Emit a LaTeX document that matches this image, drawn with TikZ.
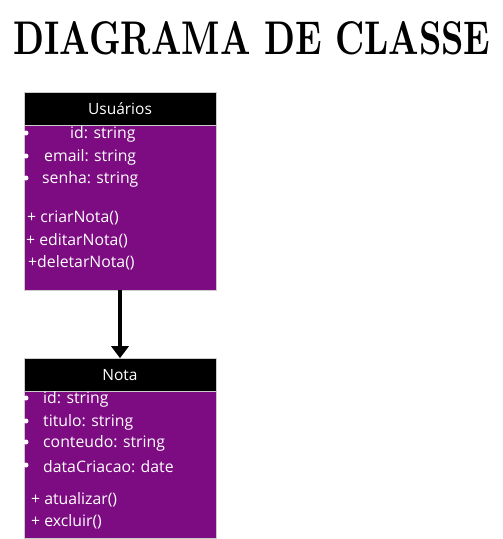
\documentclass[tikz,border=0pt]{standalone}
\usepackage{fontspec}
\setmainfont{Open Sans}
\newfontfamily\titlefont{Latin Modern Roman}
\usetikzlibrary{arrows.meta}
\definecolor{umlpurple}{RGB}{125,12,130}
\tikzset{
  hdr/.style={fill=black,draw=gray!40,line width=0.6pt,minimum width=192pt,minimum height=33pt,inner sep=0pt,text=white,font=\fontsize{15.5}{17}\selectfont},
  bodybox/.style={fill=umlpurple,draw=gray!40,line width=0.6pt},
  item/.style={anchor=west,text=white,inner sep=0pt,yshift=-1.5pt,font=\fontsize{15.8}{17}\selectfont},
  dot/.style={circle,fill=white,inner sep=0pt,minimum size=5pt},
  assoc/.style={line width=3.4pt,-{Triangle[length=12pt,width=17pt]}}
}
\begin{document}
\begin{tikzpicture}[x=1pt,y=-1pt]
\useasboundingbox (0,0) rectangle (503,539);
\node[font=\titlefont\bfseries, anchor=center, inner sep=0pt] (title) at (252,38.5) {\resizebox{477pt}{33pt}{DIAGRAMA DE CLASSE}};
% Usuarios
\path[bodybox] (24,125) rectangle (216,290);
\node[hdr] (uh) at (120,108.5) {Usuários};
\coordinate (ub) at (120,290);
\node[dot] (d1) at (26,133) {};
\node[dot] (d2) at (26,156) {};
\node[dot] (d3) at (26,178) {};
\node[item] (u1) at (70,133) {id: string};
\node[item] (u2) at (44,156) {email: string};
\node[item] (u3) at (42,178) {senha: string};
\node[item] (u4) at (27,216) {+ criarNota()};
\node[item] (u5) at (26,239) {+ editarNota()};
\node[item] (u6) at (28,261) {+deletarNota()};
% Nota
\path[bodybox] (24,391) rectangle (216,538);
\node[hdr] (nh) at (120,375) {Nota};
\node[dot] (e1) at (26,398) {};
\node[dot] (e2) at (26,421) {};
\node[dot] (e3) at (26,442) {};
\node[dot] (e4) at (26,465) {};
\node[item] (n1) at (43,398) {id: string};
\node[item] (n2) at (43,421) {titulo: string};
\node[item] (n3) at (43,442) {conteudo: string};
\node[item] (n4) at (43,465) {dataCriacao: date};
\node[item] (n5) at (31,498) {+ atualizar()};
\node[item] (n6) at (31,520) {+ excluir()};
\draw[assoc] (ub) -- (nh.north);
\end{tikzpicture}
\end{document}
